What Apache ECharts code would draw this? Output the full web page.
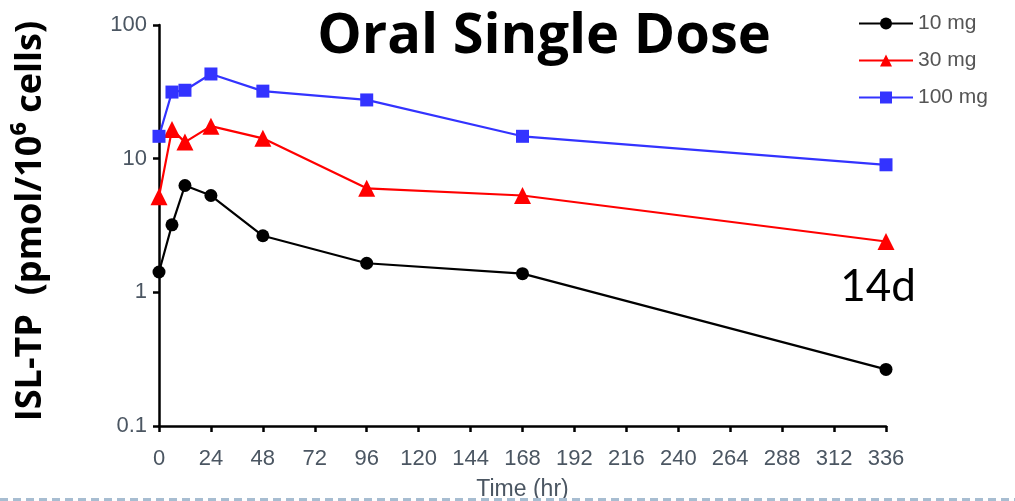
<!DOCTYPE html>
<html>
<head>
<meta charset="utf-8">
<script src="https://cdn.jsdelivr.net/npm/echarts@6/dist/echarts.min.js"></script>
<style>
html,body{margin:0;padding:0;background:#fff;}
#chart{width:1015px;height:501px;}
</style>
</head>
<body>
<div id="chart"></div>
<script>
const times = [0, 6, 12, 24, 48, 96, 168, 336];
const dose10 = [1.42, 3.2, 6.3, 5.3, 2.65, 1.65, 1.38, 0.265];
const dose30 = [5.2, 16.5, 13.3, 17.5, 14.2, 6.0, 5.3, 2.4];
const dose100 = [14.7, 31.5, 32.5, 43, 32, 27.5, 14.7, 9.0];
const seriesNames = ['10 mg', '30 mg', '100 mg'];
const xTicks = {min: 0, max: 336, interval: 24};
const yRange = {min: 0.1, max: 100};

const pair = arr => times.map((t, i) => [t, arr[i]]);
const narrow = '"Liberation Sans Narrow", "Liberation Sans", Arial, sans-serif';
const tickColor = '#4b5662';

const chart = echarts.init(document.getElementById('chart'), null, {renderer: 'canvas'});
chart.setOption({
  animation: false,
  backgroundColor: '#ffffff',
  graphic: [
    {type: 'text', position: [544, 37], z: 10,
      style: {text: 'Oral Single Dose', fontFamily: '"Open Sans"', fontWeight: 'bold',
        fontSize: 56, fill: '#000', textAlign: 'center', textVerticalAlign: 'middle'}},
    {type: 'text', rotation: Math.PI / 2, z: 10, position: [31, 221],
      style: {text: 'ISL-TP  (pmol/10\u2076 cells)', fontFamily: '"Open Sans"', fontWeight: 'bold',
        fontSize: 36, fill: '#000', textAlign: 'center', textVerticalAlign: 'middle'}},
    {type: 'text', position: [878, 287], z: 10,
      style: {text: '14d', fontFamily: 'Lato', fontSize: 44, fill: '#000',
        textAlign: 'center', textVerticalAlign: 'middle'}},
    {type: 'line', z: 20, shape: {x1: 0, y1: 499.5, x2: 1015, y2: 499.5},
      style: {stroke: '#a7bdd1', lineWidth: 3, lineDash: [8, 5]}}
  ],
  legend: {
    orient: 'vertical', left: 853, top: 8,
    itemWidth: 54, itemHeight: 15, itemGap: 16,
    data: seriesNames,
    textStyle: {fontFamily: narrow, fontSize: 21, color: '#555555'}
  },
  grid: {left: 159, right: 129, top: 25, bottom: 75, containLabel: false, outerBoundsMode: 'none'},
  xAxis: {
    type: 'value', min: xTicks.min, max: xTicks.max, interval: xTicks.interval,
    name: 'Time (hr)', nameLocation: 'middle', nameGap: 52,
    nameTextStyle: {fontFamily: narrow, fontSize: 23, color: tickColor},
    axisLine: {lineStyle: {color: '#000', width: 2.5}},
    axisTick: {show: true, length: 6, lineStyle: {color: '#000', width: 2.5}},
    axisLabel: {fontFamily: narrow, fontSize: 22, color: tickColor, margin: 22},
    splitLine: {show: false}
  },
  yAxis: {
    type: 'log', logBase: 10, min: yRange.min, max: yRange.max,
    axisLine: {show: true, lineStyle: {color: '#000', width: 2.5}},
    axisTick: {show: true, length: 6, lineStyle: {color: '#000', width: 2.5}},
    axisLabel: {fontFamily: narrow, fontSize: 22, color: tickColor, margin: 12,
      formatter: v => (v < 1 ? v.toFixed(1) : String(Math.round(v)))},
    splitLine: {show: false},
    minorTick: {show: false}
  },
  series: [
    {name: seriesNames[0], type: 'line', data: pair(dose10), symbol: 'circle', symbolSize: 13,
      itemStyle: {color: '#000000'}, lineStyle: {color: '#000000', width: 2.2}},
    {name: seriesNames[1], type: 'line', data: pair(dose30), symbol: 'triangle', symbolSize: 17,
      itemStyle: {color: '#ff0000'}, lineStyle: {color: '#ff0000', width: 2.2}},
    {name: seriesNames[2], type: 'line', data: pair(dose100), symbol: 'rect', symbolSize: 13,
      itemStyle: {color: '#3333ff'}, lineStyle: {color: '#3333ff', width: 2.2}}
  ]
});
</script>
</body>
</html>
